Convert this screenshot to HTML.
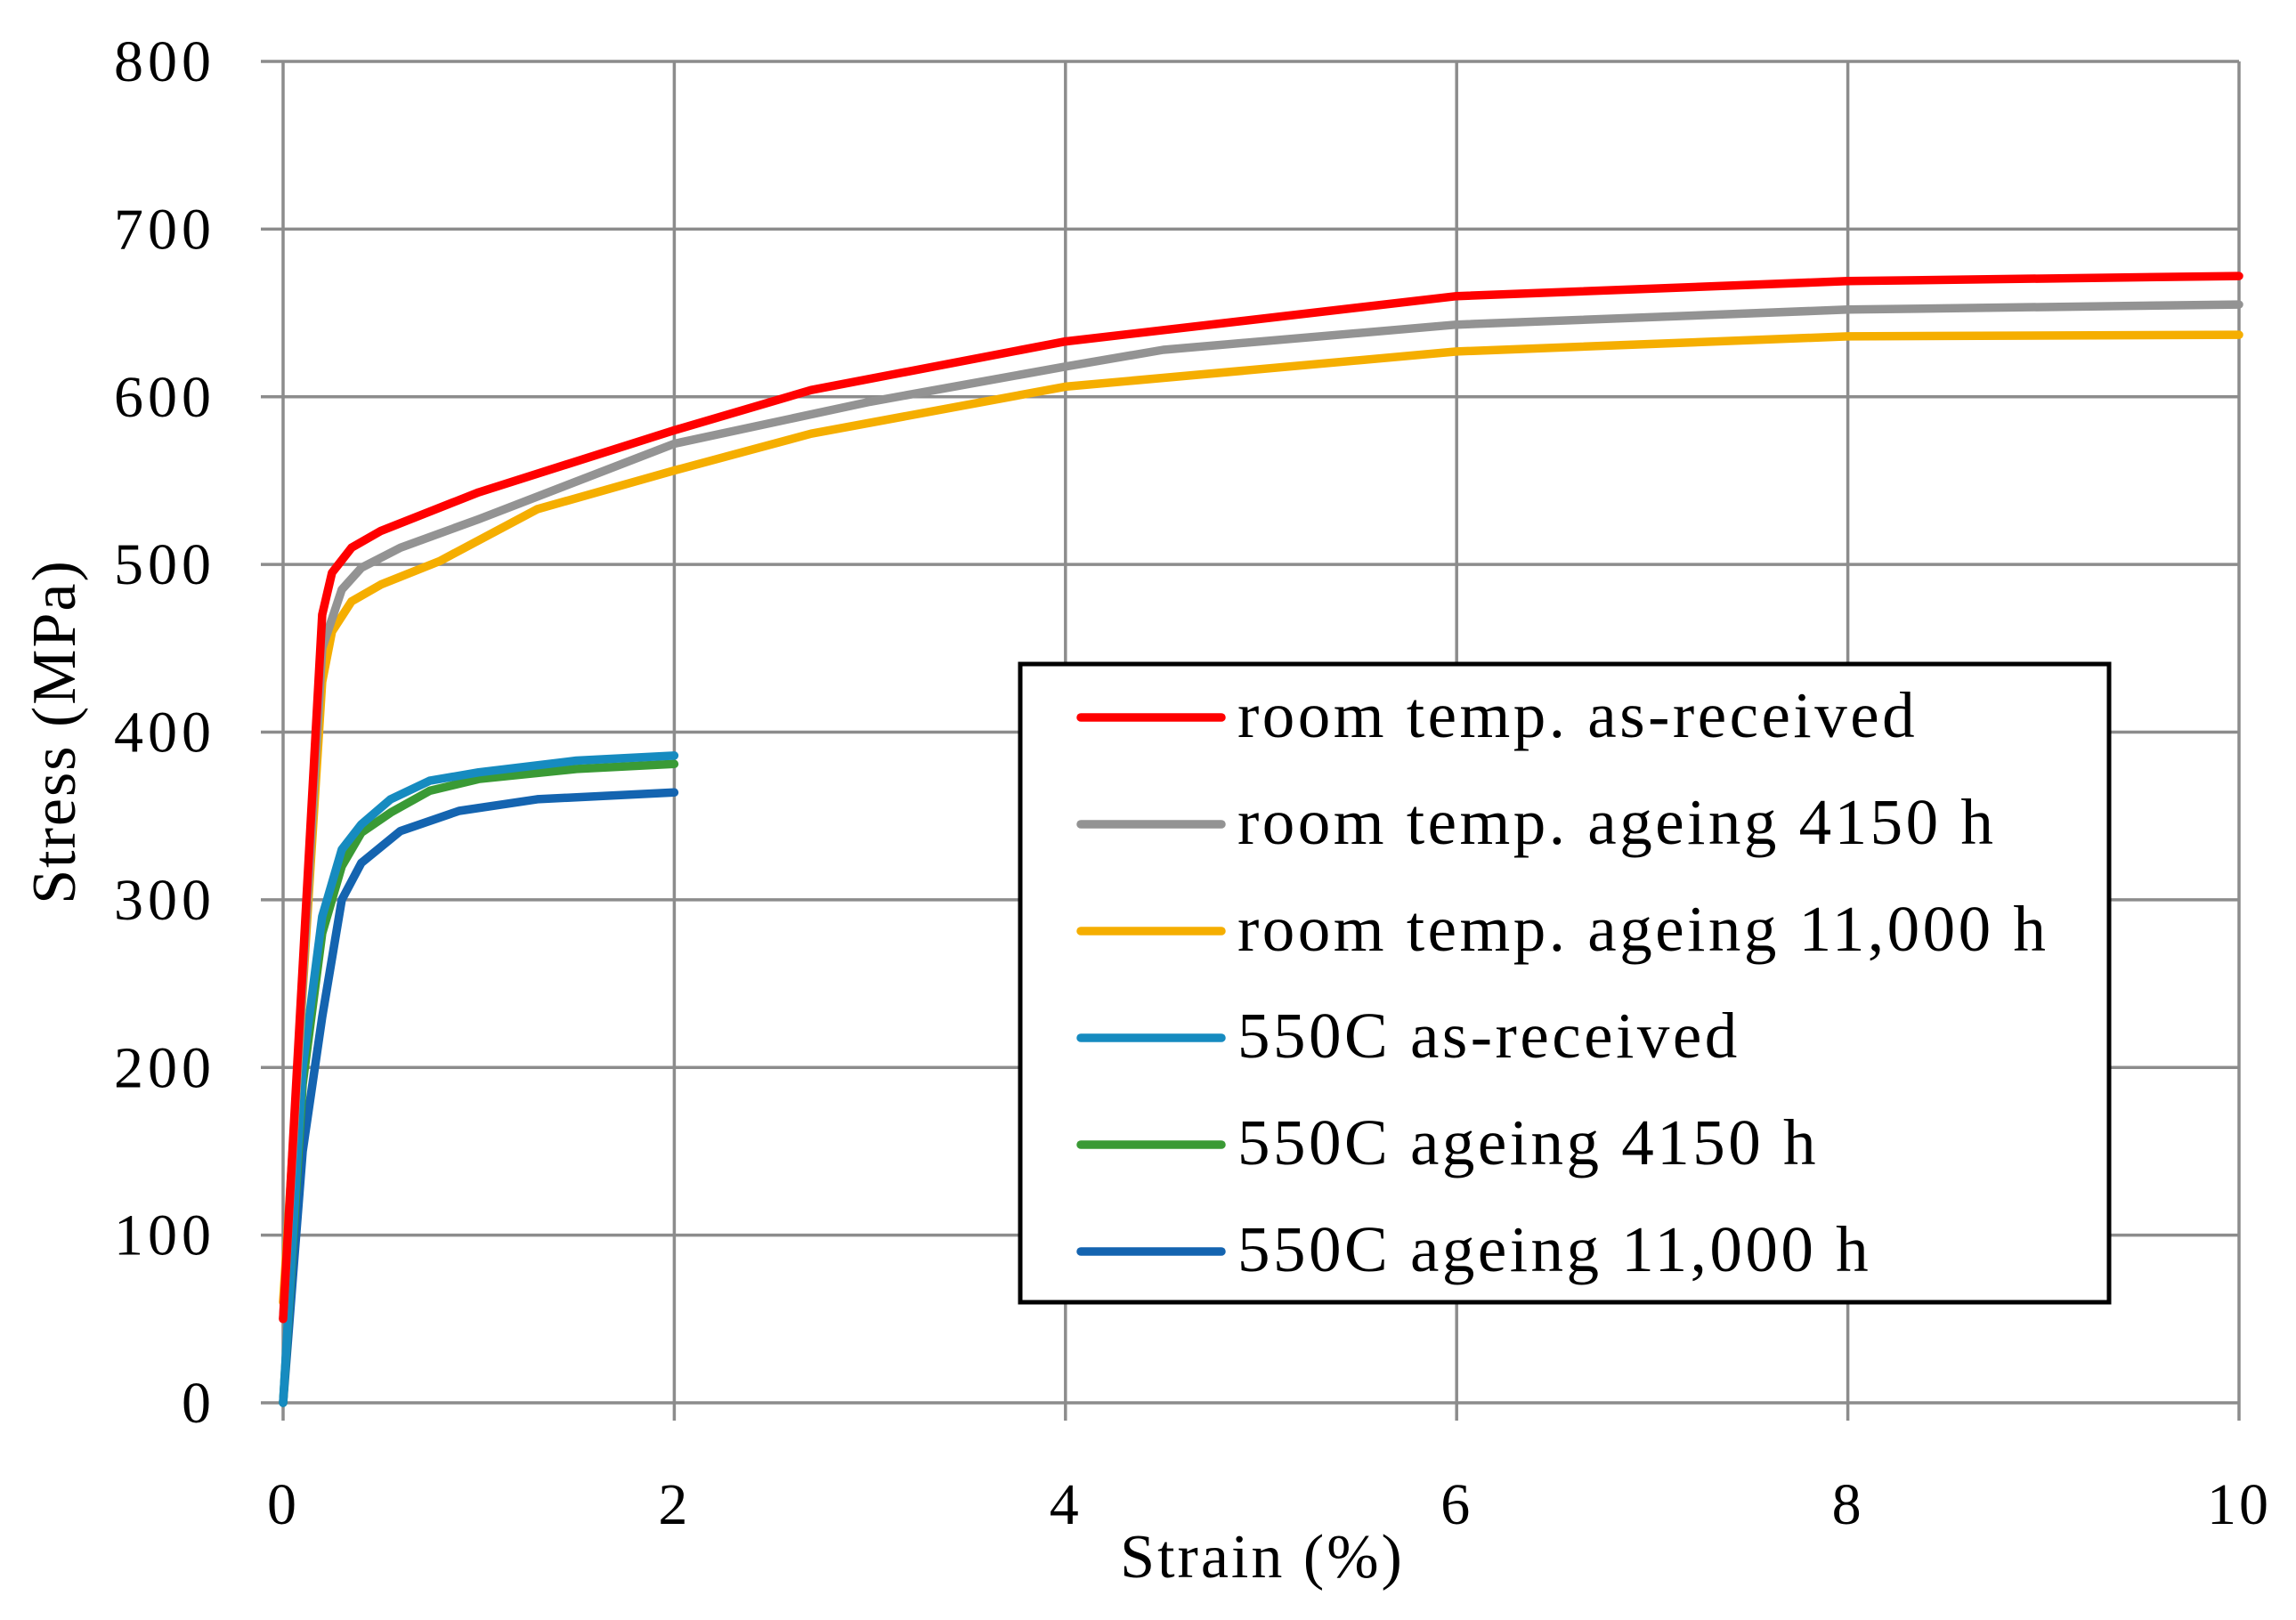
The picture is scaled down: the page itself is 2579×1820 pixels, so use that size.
<!DOCTYPE html>
<html><head><meta charset="utf-8"><style>
html,body{margin:0;padding:0;background:#fff}
svg text{font-family:"Liberation Serif",serif;fill:#000}
</style></head><body>
<svg id="chart" width="2579" height="1815" viewBox="0 0 2579 1815" xmlns="http://www.w3.org/2000/svg">
<g id="grid"></g><g id="series"></g><g id="labels"></g><g id="legend"></g>
</svg>
<script>
const xTicks=[0,2,4,6,8,10];
const yTicks=[0,100,200,300,400,500,600,700,800];
const names=["room temp. as-received","room temp. ageing 4150 h","room temp. ageing 11,000 h","550C as-received","550C ageing 4150 h","550C ageing 11,000 h"];
const colors=["#ff0000","#939393","#f5ae00","#168bc0","#3a9a35","#1464b0"];
const rtArX=[0,0.1,0.2,0.25,0.35,0.5,1,2,2.7,4,6,8,10];
const rtArY=[50,260,470,495,510,520,543,580,604,633,660,669,672];
const rt4150X=[0,0.2,0.3,0.4,0.6,1,2,3,4,4.5,6,8,10];
const rt4150Y=[50,450,485,498,510,527,572,597,618,628,643,652,655];
const rt11kX=[0,0.2,0.25,0.35,0.5,0.8,1.3,2,2.7,4,6,8,10];
const rt11kY=[60,430,460,478,488,502,533,556,578,606,627,636,637];
const hiArX=[0,0.1,0.2,0.3,0.4,0.55,0.75,1,1.5,2];
const hiArY=[0,200,290,330,345,360,371,376,383,386];
const hi4150X=[0,0.1,0.2,0.3,0.4,0.55,0.75,1,1.5,2];
const hi4150Y=[0,190,280,320,340,352,365,372,378,381];
const hi11kX=[0,0.1,0.2,0.3,0.4,0.6,0.9,1.3,2];
const hi11kY=[0,150,230,300,322,341,353,360,364];
const seriesX=[rtArX,rt4150X,rt11kX,hiArX,hi4150X,hi11kX];
const seriesY=[rtArY,rt4150Y,rt11kY,hiArY,hi4150Y,hi11kY];

const X0=318,X1=2515,Y0=1576,Y1=69;
const sx=v=>X0+(v-0)/10*(X1-X0);
const sy=v=>Y0-(v/800)*(Y0-Y1);
const NS="http://www.w3.org/2000/svg";
function mk(tag,attrs,parent){const e=document.createElementNS(NS,tag);for(const k in attrs)e.setAttribute(k,attrs[k]);parent.appendChild(e);return e;}
const grid=document.getElementById('grid'),ser=document.getElementById('series'),lab=document.getElementById('labels'),leg=document.getElementById('legend');

yTicks.forEach(t=>{
 const l=mk('line',{x1:293,x2:X1,y1:sy(t),y2:sy(t),stroke:'#8c8c8c','stroke-width':3.5},grid);
 
 
 const tx=mk('text',{x:242,y:sy(t)+22,'font-size':66,'letter-spacing':5,'text-anchor':'end'},lab);
 tx.textContent=t;
 
 
});
xTicks.forEach(t=>{
 const l=mk('line',{x1:sx(t),x2:sx(t),y1:Y1,y2:1596,stroke:'#8c8c8c','stroke-width':3.5},grid);
 
 
 const tx=mk('text',{x:sx(t),y:1712,'font-size':66,'letter-spacing':3,'text-anchor':'middle'},lab);
 tx.textContent=t;
 
 
});
const xt=mk('text',{x:1418,y:1772,'font-size':70,'letter-spacing':3,'text-anchor':'middle'},lab);
xt.textContent='Strain (%)';


const yt=mk('text',{x:0,y:0,'font-size':70,'letter-spacing':2,'text-anchor':'middle',transform:'translate(84,822) rotate(-90)'},lab);
yt.textContent='Stress (MPa)';



for(let i=5;i>=0;i--){
 const pts=seriesX[i].map((x,j)=>sx(x).toFixed(1)+','+sy(seriesY[i][j]).toFixed(1)).join(' ');
 const p=mk('polyline',{points:pts,fill:'none',stroke:colors[i],'stroke-width':9.5,'stroke-linejoin':'round','stroke-linecap':'round'},ser);
 
 
}

const box=mk('rect',{x:1146,y:746,width:1223,height:717,fill:'#fff',stroke:'#000','stroke-width':5},leg);


names.forEach((n,i)=>{
 const y=806+i*120;
 const l=mk('line',{x1:1214,x2:1372,y1:y,y2:y,stroke:colors[i],'stroke-width':9.5,'stroke-linecap':'round'},leg);
 
 
 const t=mk('text',{x:1390,y:y+22,'font-size':73,'letter-spacing':3.5},leg);
 t.textContent=n;
 
 
});
</script>
</body></html>
